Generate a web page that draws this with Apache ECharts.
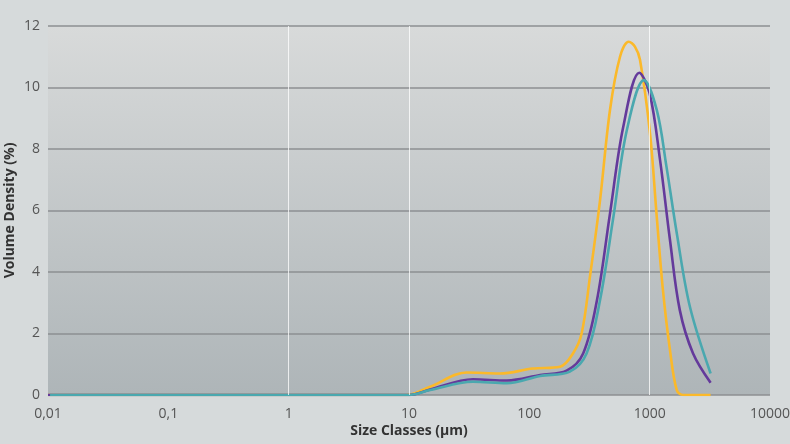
<!DOCTYPE html>
<html><head><meta charset="utf-8">
<script src="https://cdn.jsdelivr.net/npm/echarts@6/dist/echarts.min.js"></script>
<style>html,body{margin:0;padding:0;background:#d6dadb;}#c{width:790px;height:444px;}</style>
</head><body><div id="c"></div>
<script>
const xTickLabels = ['0,01','0,1','1','10','100','1000','10000'];
const yellowX = [0.01, 1, 9.5, 15, 30, 57, 107, 180, 231, 272, 319, 387, 468, 567, 670, 754, 831, 1007, 1145, 1290, 1475, 1680, 1900, 3210];
const yellowY = [0, 0, 0, 0.27, 0.73, 0.70, 0.86, 0.92, 1.36, 2.0, 3.85, 6.34, 9.27, 11.0, 11.49, 11.33, 10.9, 8.5, 5.8, 3.4, 1.46, 0.16, 0, 0];
const purpleX = [0.01, 1, 10, 15, 34, 65, 123, 204, 280, 365, 468, 604, 820, 1000, 1220, 1475, 1780, 2290, 3210];
const purpleY = [0, 0, 0, 0.18, 0.51, 0.47, 0.65, 0.79, 1.35, 3.09, 5.9, 8.73, 10.48, 9.81, 7.64, 5.04, 2.76, 1.36, 0.4];
const tealX = [0.0104, 0.1, 1, 10, 15, 34, 65, 123, 217, 299, 387, 500, 645, 897, 1145, 1380, 1680, 2160, 3210];
const tealY = [0, 0, 0, 0, 0.16, 0.43, 0.38, 0.62, 0.76, 1.35, 3.09, 5.8, 8.6, 10.24, 9.27, 7.42, 5.26, 2.87, 0.7];
const vLines = [1, 10, 1000];

function pairs(xs, ys){ return xs.map((x,i)=>[x, ys[i]]); }
const chart = echarts.init(document.getElementById('c'));
const font = "'Open Sans', sans-serif";
function mk(name, xs, ys, color, extra){
  return Object.assign({
    name, type:'line', data: pairs(xs, ys), smooth: 0.35,
    showSymbol:false, symbol:'none', lineStyle:{color, width:2.6}, itemStyle:{color}, silent:true, animation:false
  }, extra||{});
}
chart.setOption({
  animation:false,
  backgroundColor:'#d6dadb',
  grid:{left:48, right:20, top:26, bottom:49, show:true, borderWidth:0, outerBoundsMode:'none', containLabel:false,
    backgroundColor: new echarts.graphic.LinearGradient(0,0,0,1,[{offset:0,color:'#d8dada'},{offset:1,color:'#aeb5b8'}])},
  xAxis:{type:'log', logBase:10, min:0.01, max:10000,
    name:'Size Classes (µm)', nameLocation:'middle', nameGap:29, nameMoveOverlap:false,
    nameTextStyle:{fontFamily:font, fontWeight:'bold', fontSize:14, color:'#333'},
    axisLine:{show:false}, axisTick:{show:false}, splitLine:{show:false}, minorTick:{show:false},
    axisLabel:{fontFamily:font, fontSize:14, color:'#555', margin:12,
      formatter:(v)=>{const i=Math.round(Math.log10(v))+2; return xTickLabels[i]||'';}}},
  yAxis:{type:'value', min:0, max:12, interval:2,
    name:'Volume Density (%)', nameLocation:'middle', nameGap:31, nameMoveOverlap:false,
    nameTextStyle:{fontFamily:font, fontWeight:'bold', fontSize:14, color:'#333'},
    axisLine:{show:false}, axisTick:{show:false},
    axisLabel:{fontFamily:font, fontSize:14, color:'#555', margin:8},
    splitLine:{lineStyle:{color:'#8c8f92', width:1.5}}},
  series:[
    mk('yellow', yellowX, yellowY, '#fbb92a', {
      markLine:{silent:true, symbol:'none', label:{show:false}, animation:false,
        lineStyle:{color:'rgba(255,255,255,0.75)', width:1, type:'solid'},
        data: vLines.map(v=>({xAxis:v}))}}),
    mk('purple', purpleX, purpleY, '#643a9b'),
    mk('teal', tealX, tealY, '#4aa8af')
  ]
});
</script></body></html>
